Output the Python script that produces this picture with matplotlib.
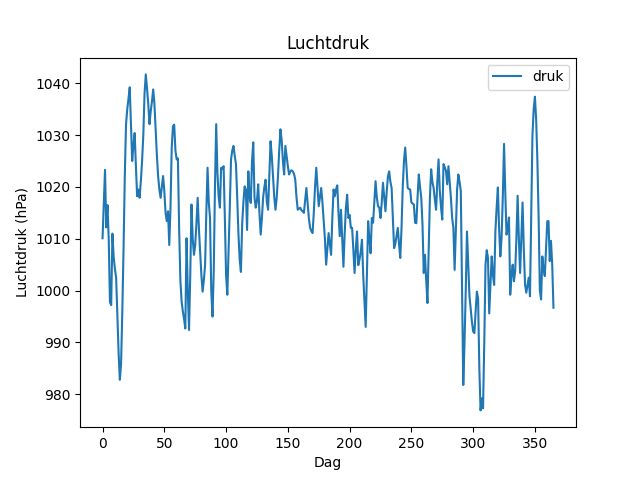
import matplotlib
matplotlib.use("Agg")
import matplotlib.pyplot as plt
import numpy as np

druk_0_59 = [1010.1, 1016.5, 1023.3, 1012.2, 1016.5, 1010.0, 997.8, 997.2, 1011.0, 1006.5,
             1004.2, 1002.5, 995.0, 988.0, 982.8, 986.0, 996.0, 1008.0, 1022.0, 1032.0,
             1035.0, 1037.0, 1039.2, 1032.0, 1025.0, 1028.0, 1030.4, 1024.0, 1018.2, 1019.5,
             1017.9, 1021.1, 1025.0, 1030.0, 1038.0, 1041.7, 1039.0, 1036.0, 1032.1, 1034.6,
             1036.5, 1038.8, 1036.0, 1031.0, 1026.0, 1022.0, 1019.5, 1017.9, 1020.0, 1022.1,
             1019.2, 1015.0, 1013.4, 1015.3, 1008.8, 1016.0, 1027.6, 1031.7, 1032.0, 1027.0]
druk_60_119 = [1025.3, 1025.5, 1012.0, 1002.0, 997.9, 996.0, 994.5, 992.7, 1010.1, 1000.0,
               992.4, 1003.0, 1016.6, 1010.0, 1006.9, 1008.8, 1013.0, 1017.9, 1012.0, 1007.5,
               1003.0, 999.8, 1002.0, 1004.9, 1015.0, 1023.7, 1017.0, 1014.0, 1000.0, 995.0,
               1003.6, 1020.0, 1032.1, 1022.7, 1018.0, 1016.0, 1023.7, 1023.5, 1024.0, 1014.0,
               1003.0, 999.2, 1007.5, 1016.0, 1025.3, 1027.0, 1027.9, 1026.0, 1024.4, 1018.0,
               1011.0, 1006.0, 1003.6, 1012.7, 1017.0, 1020.1, 1019.5, 1011.7, 1023.0, 1018.0]
druk_120_179 = [1016.9, 1025.0, 1028.6, 1018.0, 1016.0, 1017.3, 1020.5, 1015.0, 1010.8, 1014.0,
                1018.0, 1020.0, 1021.4, 1017.0, 1015.6, 1022.0, 1028.8, 1026.0, 1022.0, 1018.0,
                1015.6, 1018.0, 1022.0, 1027.0, 1031.1, 1029.0, 1025.0, 1022.4, 1027.9, 1026.0,
                1024.0, 1022.4, 1023.0, 1023.2, 1023.0, 1022.5, 1021.4, 1018.0, 1015.6, 1015.8,
                1016.0, 1015.5, 1015.3, 1015.0, 1017.5, 1019.8, 1017.0, 1014.0, 1012.1, 1011.5,
                1011.1, 1015.0, 1020.0, 1023.7, 1020.0, 1016.3, 1018.0, 1019.8, 1017.0, 1013.4]
druk_180_239 = [1010.0, 1005.0, 1008.0, 1011.1, 1009.0, 1006.9, 1014.0, 1019.5, 1018.2, 1019.5,
                1020.3, 1015.0, 1010.5, 1015.6, 1010.0, 1004.6, 1011.0, 1016.0, 1018.5, 1014.0,
                1014.6, 1012.1, 1012.1, 1008.0, 1003.4, 1008.0, 1011.4, 1004.9, 1006.0, 1007.5,
                1009.8, 1003.0, 998.0, 993.0, 1003.0, 1013.4, 1010.0, 1007.2, 1014.0, 1013.1,
                1017.0, 1021.1, 1018.0, 1016.3, 1016.0, 1014.0, 1017.0, 1020.8, 1018.0, 1015.3,
                1019.0, 1022.0, 1023.0, 1021.0, 1019.8, 1014.0, 1008.2, 1009.0, 1010.5, 1012.1]
druk_240_299 = [1009.0, 1006.3, 1012.0, 1020.0, 1025.0, 1027.6, 1024.0, 1019.8, 1019.6, 1019.5,
                1017.0, 1016.8, 1016.6, 1013.1, 1013.0, 1018.0, 1022.4, 1020.0, 1017.9, 1012.7,
                1003.4, 1006.9, 1002.0, 997.6, 1008.0, 1018.0, 1023.4, 1021.0, 1019.8, 1017.5,
                1015.6, 1021.0, 1025.3, 1019.2, 1016.0, 1013.7, 1024.4, 1023.8, 1023.1, 1020.5,
                1024.0, 1021.0, 1017.9, 1014.0, 1012.1, 1004.0, 1012.0, 1019.5, 1022.4, 1021.0,
                1019.2, 1000.0, 981.8, 990.0, 1000.0, 1011.4, 1005.0, 999.0, 996.6, 994.0]
druk_300_365 = [992.1, 991.8, 996.0, 999.8, 998.5, 985.0, 976.9, 979.2, 977.3, 990.0,
                1005.0, 1007.8, 1006.3, 995.6, 1001.0, 1006.6, 1003.0, 1001.1, 1011.4, 1016.0,
                1019.9, 1012.0, 1006.6, 1010.2, 1018.0, 1028.3, 1019.0, 1010.8, 1012.0, 1014.1,
                999.2, 1003.0, 1005.0, 1001.8, 1003.7, 1010.0, 1018.3, 1010.0, 1003.4, 1010.0,
                1017.0, 1008.0, 1001.2, 999.6, 1001.0, 1002.5, 998.9, 1015.0, 1030.0, 1035.0,
                1037.4, 1033.0, 1025.0, 1014.0, 1000.0, 998.3, 1006.6, 1004.0, 1002.8, 1008.0,
                1013.4, 1013.4, 1005.7, 1009.6, 1005.0, 996.7]

druk = druk_0_59 + druk_60_119 + druk_120_179 + druk_180_239 + druk_240_299 + druk_300_365
dagen = np.arange(len(druk))

plt.figure(figsize=(6.4, 4.8), dpi=100)
plt.plot(dagen, druk, label="druk")
plt.title("Luchtdruk")
plt.xlabel("Dag")
plt.ylabel("Luchtdruk (hPa)")
plt.legend()
plt.savefig("out.png")
